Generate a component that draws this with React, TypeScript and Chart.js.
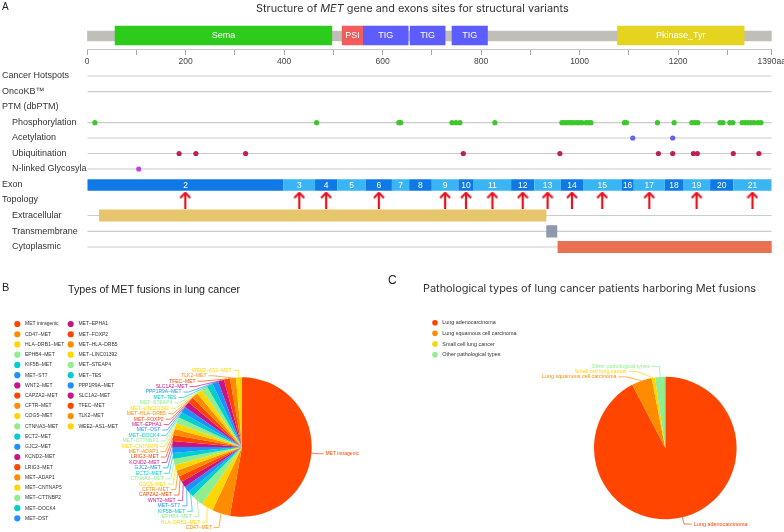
import React, { useEffect, useRef } from 'react';
import { Chart, registerables } from 'chart.js';

Chart.register(...registerables);

// ---------------- Panel A data (amino-acid coordinates) ----------------
const PROTEIN_LENGTH = 1390;
const axisTickValues = [0, 100, 200, 300, 400, 500, 600, 700, 800, 900, 1000, 1100, 1200, 1300, 1390];
const domainNames = ['Sema', 'PSI', 'TIG', 'TIG', 'TIG', 'Pkinase_Tyr'];
const domainStarts = [57, 518, 561, 656, 741, 1077];
const domainEnds = [497, 560, 652, 727, 813, 1334];
const exonNumbers = [2, 3, 4, 5, 6, 7, 8, 9, 10, 11, 12, 13, 14, 15, 16, 17, 18, 19, 20, 21];
const exonBoundaries = [0, 399, 463, 508, 566, 619, 654, 700, 754, 785, 861, 908, 962, 1007, 1085, 1110, 1173, 1210, 1265, 1312, 1390];
const breakpointExons = [2, 3, 4, 6, 9, 10, 11, 12, 13, 14, 15, 17, 19, 21];
const phosphorylationSites = [16, 466, 633, 637, 741, 749, 757, 828, 964, 969, 974, 979, 984, 989, 995, 1000, 1005, 1013, 1018, 1023, 1091, 1095, 1158, 1192, 1228, 1234, 1240, 1285, 1291, 1305, 1311, 1330, 1336, 1342, 1348, 1354, 1362, 1368];
const acetylationSites = [1108, 1189];
const ubiquitinationSites = [187, 221, 322, 764, 960, 1160, 1189, 1231, 1239, 1312, 1364];
const glycosylationSites = [105];
const topologyNames = ['Extracellular', 'Transmembrane', 'Cytoplasmic'];
const topologyStarts = [25, 933, 956];
const topologyEnds = [932, 954, 1390];
const trackLabels = ['Cancer Hotspots', 'OncoKB\u2122', 'PTM (dbPTM)', '    Phosphorylation', '    Acetylation', '    Ubiquitination', '    N-linked Glycosyla', 'Exon', 'Topology', '    Extracellular', '    Transmembrane', '    Cytoplasmic'];

// ---------------- Panel B data ----------------
const fusionNames = ['MET intragenic', 'CD47\u2013MET', 'HLA\u2013DRB1\u2013MET', 'EPHB4\u2013MET', 'KIF5B\u2013MET', 'MET\u2013ST7', 'WNT2\u2013MET', 'CAPZA2\u2013MET', 'CFTR\u2013MET', 'COG5\u2013MET', 'CTNNA3\u2013MET', 'ECT2\u2013MET', 'GJC2\u2013MET', 'KCND2\u2013MET', 'LRIG3\u2013MET', 'MET\u2013ADAP1', 'MET\u2013CNTNAP5', 'MET\u2013CTTNBP2', 'MET\u2013DOCK4', 'MET\u2013DST', 'MET\u2013EPHA1', 'MET\u2013FOXP2', 'MET\u2013HLA\u2013DRB5', 'MET\u2013LINC01392', 'MET\u2013STEAP4', 'MET\u2013TES', 'PPP1R9A\u2013MET', 'SLC1A2\u2013MET', 'TFEC\u2013MET', 'TLK2\u2013MET', 'WEE2\u2013AS1\u2013MET'];
const fusionCounts = [38, 3, 2, 2, 1, 1, 1, 1, 1, 1, 1, 1, 1, 1, 1, 1, 1, 1, 1, 1, 1, 1, 1, 1, 1, 1, 1, 1, 1, 1, 1];

// ---------------- Panel C data ----------------
const pathologyNames = ['Lung adenocarcinoma', 'Lung squamous cell carcinoma', 'Small cell lung cancer', 'Other pathological types'];
const pathologyCounts = [120, 6, 1, 3];

// ---------------- styles / layout ----------------
const PALETTE = ['#ff4500', '#ff8c00', '#ffd700', '#90ee90', '#00ced1', '#1e90ff', '#c71585'];
const DOMAIN_COLORS = ['#2ccb1c', '#f25c5c', '#5c5cff', '#5c5cff', '#5c5cff', '#e5d41f'];
const EXON_DARK = '#0f79e6';
const EXON_LIGHT = '#3ab5f4';
const TOPOLOGY_COLORS = ['#e6c56c', '#8e99ad', '#e87152'];
const A_HEIGHT = 262;
const ROW_Y = [76, 91.7, 106.5, 122.7, 138, 153.5, 169, 185, 199.5, 215.5, 231.3, 247];
const LINE_ROWS = [0, 1, 3, 4, 5, 6, 9, 10, 11];
const DOMAIN_Y = 35.5;
const AXIS_Y = 49.5;
const ARROW_Y = 200;
const SANS = 'Liberation Sans, Arial, sans-serif';

function makeArrow(color: string) {
  const c = document.createElement('canvas');
  c.width = 12;
  c.height = 17;
  const g = c.getContext('2d')!;
  g.strokeStyle = color;
  g.lineWidth = 2.2;
  g.beginPath();
  g.moveTo(6, 1.5);
  g.lineTo(6, 17);
  g.stroke();
  g.beginPath();
  g.moveTo(1, 6.5);
  g.lineTo(6, 1.3);
  g.lineTo(11, 6.5);
  g.stroke();
  return c;
}

const barTextPlugin = {
  id: 'barText',
  afterDatasetsDraw(chart: any) {
    const ctx = chart.ctx;
    chart.data.datasets.forEach((ds: any, di: number) => {
      if (!ds.barTexts) return;
      const meta = chart.getDatasetMeta(di);
      meta.data.forEach((el: any, j: number) => {
        const p = el.getProps(['x', 'base', 'y'], true);
        ctx.save();
        ctx.fillStyle = '#ffffff';
        ctx.font = ds.barTextFont;
        ctx.textAlign = 'center';
        ctx.textBaseline = 'middle';
        ctx.fillText(String(ds.barTexts[j]), (p.x + p.base) / 2, p.y + 0.5);
        ctx.restore();
      });
    });
  },
};

const dotLegendPlugin = {
  id: 'dotLegend',
  afterDraw(chart: any, _args: any, o: any) {
    const ctx = chart.ctx;
    const labels = chart.data.labels;
    const colors = chart.data.datasets[0].backgroundColor;
    ctx.save();
    ctx.font = o.fontSize + 'px ' + SANS;
    ctx.textBaseline = 'middle';
    ctx.textAlign = 'left';
    labels.forEach((lab: string, i: number) => {
      const col = Math.floor(i / o.perColumn);
      const row = i % o.perColumn;
      const x = o.x + col * o.columnWidth;
      const y = o.y + row * o.rowHeight;
      ctx.fillStyle = colors[i];
      ctx.beginPath();
      ctx.arc(x, y, o.radius, 0, Math.PI * 2);
      ctx.fill();
      ctx.fillStyle = o.color;
      ctx.fillText(lab, x + o.textOffset, y);
    });
    ctx.restore();
  },
};

const sliceLabelPlugin = {
  id: 'sliceLabels',
  afterDraw(chart: any, _args: any, o: any) {
    const ctx = chart.ctx;
    const meta = chart.getDatasetMeta(0);
    const colors = chart.data.datasets[0].backgroundColor;
    const labels = chart.data.labels;
    const items = meta.data.map((el: any, i: number) => {
      const p = el.getProps(['x', 'y', 'startAngle', 'endAngle', 'outerRadius'], true);
      const a = (p.startAngle + p.endAngle) / 2;
      const cs = Math.cos(a);
      const sn = Math.sin(a);
      const dir = cs >= 0 ? 1 : -1;
      const rA = p.outerRadius + o.len;
      return {
        i, dir, cx: p.x, cy: p.y, rA,
        sx: p.x + p.outerRadius * cs, sy: p.y + p.outerRadius * sn,
        tx: p.x + rA * cs + o.lead * dir, ty: p.y + rA * sn,
      };
    });
    [-1, 1].forEach((dir) => {
      const list = items.filter((it: any) => it.dir === dir).sort((a: any, b: any) => a.ty - b.ty);
      if (!list.length) return;
      let total = 0;
      for (let k = 1; k < list.length; k++) {
        const min = list[k - 1].ty + o.gap;
        if (list[k].ty < min) {
          total += min - list[k].ty;
          list[k].ty = min;
        }
      }
      if (total > 0) {
        if (o.balance) {
          const d = total / list.length;
          list.forEach((it: any) => { it.ty -= d; });
        }
        const semis = [list.filter((it: any) => it.ty <= it.cy), list.filter((it: any) => it.ty > it.cy)];
        semis.forEach((semi: any[]) => {
          if (!semi.length) return;
          let ext = semi[0];
          let maxDy = -1;
          semi.forEach((it) => {
            const dy = Math.abs(it.ty - it.cy);
            if (dy >= maxDy) { maxDy = dy; ext = it; }
          });
          const dx0 = Math.abs(ext.tx - ext.cx) - o.lead;
          const rA = ext.rA;
          const rB = dx0 < rA ? Math.sqrt((maxDy * maxDy) / (1 - (dx0 * dx0) / (rA * rA))) : rA;
          semi.forEach((it) => {
            const dy = Math.abs(it.ty - it.cy);
            const dx = it.rA * Math.sqrt(Math.max(0, 1 - (dy * dy) / (rB * rB)));
            it.tx = it.cx + (dx + o.lead) * it.dir;
          });
        });
      }
    });
    ctx.save();
    ctx.lineWidth = o.lineWidth;
    ctx.font = o.fontSize + 'px ' + SANS;
    ctx.textBaseline = 'middle';
    items.forEach((it: any) => {
      const col = colors[it.i];
      const elbowX = it.tx - o.lead * it.dir;
      const endX = it.tx - o.textGap * it.dir;
      ctx.strokeStyle = col;
      ctx.beginPath();
      ctx.moveTo(it.sx, it.sy);
      ctx.lineTo(elbowX, it.ty);
      ctx.lineTo(endX, it.ty);
      ctx.stroke();
      ctx.fillStyle = col;
      ctx.textAlign = it.dir > 0 ? 'left' : 'right';
      ctx.fillText(labels[it.i], it.tx, it.ty);
    });
    ctx.restore();
  },
};

function GenePanel() {
  const ref = useRef<HTMLCanvasElement>(null);
  useEffect(() => {
    const arrow = makeArrow('#e8121c');
    const exonCenters = exonNumbers.map((_, i) => (exonBoundaries[i] + exonBoundaries[i + 1]) / 2);
    const ptm = (sites: number[], row: number, color: string, label: string) => ({
      type: 'scatter', label, order: 1,
      data: sites.map((x) => ({ x, y: ROW_Y[row] })),
      backgroundColor: color, pointRadius: 2.6, pointBorderWidth: 0, pointHoverRadius: 2.6,
    });
    const chart = new Chart(ref.current!, {
      type: 'bar',
      data: {
        datasets: [
          {
            type: 'scatter', label: 'Breakpoints', order: 0,
            data: breakpointExons.map((n) => ({ x: exonCenters[exonNumbers.indexOf(n)], y: ARROW_Y })),
            pointStyle: arrow, pointRadius: 6, pointHoverRadius: 6,
          },
          ptm(phosphorylationSites, 3, '#3cc82a', 'Phosphorylation'),
          ptm(acetylationSites, 4, '#5e62f5', 'Acetylation'),
          ptm(ubiquitinationSites, 5, '#c0204c', 'Ubiquitination'),
          ptm(glycosylationSites, 6, '#c040e8', 'N-linked Glycosylation'),
          {
            type: 'bar', label: 'Domains', order: 3, indexAxis: 'y', grouped: false,
            data: domainStarts.map((s, i) => ({ x: [s, domainEnds[i]], y: DOMAIN_Y })),
            backgroundColor: DOMAIN_COLORS, barThickness: 19, borderWidth: 0,
            barTexts: domainNames, barTextFont: '9px ' + SANS,
          },
          {
            type: 'bar', label: 'Protein', order: 4, indexAxis: 'y', grouped: false,
            data: [{ x: [0, PROTEIN_LENGTH], y: DOMAIN_Y + 0.5 }],
            backgroundColor: '#bfbfb8', barThickness: 10, borderWidth: 0,
          },
          {
            type: 'bar', label: 'Exons', order: 3, indexAxis: 'y', grouped: false,
            data: exonNumbers.map((_, i) => ({ x: [exonBoundaries[i], exonBoundaries[i + 1]], y: ROW_Y[7] })),
            backgroundColor: exonNumbers.map((n) => (n % 2 === 0 ? EXON_DARK : EXON_LIGHT)),
            barThickness: 11.5, borderWidth: 0, inflateAmount: 0,
            barTexts: exonNumbers, barTextFont: '8.5px ' + SANS,
          },
          {
            type: 'bar', label: 'Topology', order: 3, indexAxis: 'y', grouped: false,
            data: topologyNames.map((_, i) => ({ x: [topologyStarts[i], topologyEnds[i]], y: ROW_Y[9 + i] })),
            backgroundColor: TOPOLOGY_COLORS, barThickness: 11.5, borderWidth: 0,
          },
          {
            type: 'bar', label: 'Tracks', order: 10, indexAxis: 'y', grouped: false,
            data: LINE_ROWS.map((r) => ({ x: [0, PROTEIN_LENGTH], y: ROW_Y[r] })),
            backgroundColor: '#cbcbcb', barThickness: 1.2, borderWidth: 0, inflateAmount: 0,
          },
        ],
      } as any,
      options: {
        responsive: false,
        maintainAspectRatio: false,
        animation: false,
        events: [],
        layout: { autoPadding: false, padding: { left: 2, right: 12.3, top: 0, bottom: 0 } },
        datasets: { bar: { indexAxis: 'y', grouped: false } } as any,
        plugins: { legend: { display: false }, tooltip: { enabled: false }, title: { display: false } },
        scales: {
          x: {
            type: 'linear', min: 0, max: PROTEIN_LENGTH, offset: false, position: { y: AXIS_Y } as any,
            afterBuildTicks: (s: any) => { s.ticks = axisTickValues.map((v) => ({ value: v })); },
            afterFit: (s: any) => { s.paddingLeft = 0; s.paddingRight = 0; s.paddingTop = 0; s.paddingBottom = 0; s.height = 0; },
            ticks: {
              autoSkip: false, maxRotation: 0, padding: 2, color: '#444',
              font: { family: SANS, size: 8.5 },
              callback: (v: any) => (v === PROTEIN_LENGTH ? PROTEIN_LENGTH + 'aa' : v % 200 === 0 ? String(v) : ''),
            },
            grid: { drawOnChartArea: false, drawTicks: true, tickLength: 5, color: '#a8a8a8', offset: false },
            border: { display: true, color: '#c4c4c4' },
          },
          y: {
            type: 'linear', min: 0, max: A_HEIGHT, reverse: true, offset: false, position: 'left',
            afterBuildTicks: (s: any) => { s.ticks = ROW_Y.map((v) => ({ value: v })); },
            afterFit: (s: any) => { s.width = 85; s.paddingTop = 0; s.paddingBottom = 0; },
            ticks: {
              autoSkip: false, padding: 0, crossAlign: 'far', color: '#333',
              font: { family: SANS, size: 9 },
              callback: (_v: any, i: number) => trackLabels[i],
            },
            grid: { display: false, offset: false },
            border: { display: false },
          },
        } as any,
      },
      plugins: [barTextPlugin],
    } as any);
    return () => chart.destroy();
  }, []);
  return <canvas ref={ref} width={784} height={A_HEIGHT} style={{ position: 'absolute', left: 0, top: 0, width: 784, height: A_HEIGHT }} />;
}

function PieCanvas(props: { left: number; labels: string[]; values: number[]; padding: any; legend: any; sliceLabels: any }) {
  const ref = useRef<HTMLCanvasElement>(null);
  useEffect(() => {
    const chart = new Chart(ref.current!, {
      type: 'pie',
      data: {
        labels: props.labels,
        datasets: [{ data: props.values, backgroundColor: props.labels.map((_, i) => PALETTE[i % PALETTE.length]), borderWidth: 0 }],
      },
      options: {
        responsive: false,
        maintainAspectRatio: false,
        animation: false,
        events: [],
        layout: { autoPadding: false, padding: props.padding },
        plugins: {
          legend: { display: false },
          tooltip: { enabled: false },
          dotLegend: props.legend,
          sliceLabels: props.sliceLabels,
        } as any,
      },
      plugins: [dotLegendPlugin, sliceLabelPlugin],
    } as any);
    return () => chart.destroy();
  }, []);
  return <canvas ref={ref} width={392} height={252} style={{ position: 'absolute', left: props.left, top: 280, width: 392, height: 252 }} />;
}

export default function App() {
  const letter: React.CSSProperties = { position: 'absolute', fontFamily: SANS, color: '#222', lineHeight: 1, whiteSpace: 'nowrap' };
  const title: React.CSSProperties = { position: 'absolute', fontFamily: 'Inter, sans-serif', fontSize: 10.9, color: '#333', lineHeight: 1, whiteSpace: 'nowrap' };
  return (
    <div style={{ position: 'absolute', left: 0, top: 0, width: 784, height: 532, background: '#fff', overflow: 'hidden' }}>
      <GenePanel />
      <PieCanvas
        left={0}
        labels={fusionNames}
        values={fusionCounts}
        padding={{ left: 172.3, right: 80.3, top: 97.3, bottom: 15.3 }}
        legend={{ x: 17.3, y: 44, rowHeight: 10.23, perColumn: 20, columnWidth: 53.4, radius: 3.1, textOffset: 7.7, fontSize: 5, color: '#333' }}
        sliceLabels={{ len: 7, lead: 7, textGap: 2, gap: 5.42, balance: false, fontSize: 5, lineWidth: 0.7 }}
      />
      <PieCanvas
        left={392}
        labels={pathologyNames}
        values={pathologyCounts}
        padding={{ left: 202, right: 47.4, top: 96.7, bottom: 12.7 }}
        legend={{ x: 43, y: 42.7, rowHeight: 10.67, perColumn: 4, columnWidth: 100, radius: 2.8, textOffset: 7.3, fontSize: 5.4, color: '#333' }}
        sliceLabels={{ len: 7, lead: 10, textGap: 2, gap: 5.3, balance: true, fontSize: 5.4, lineWidth: 0.7 }}
      />
      <div style={{ ...letter, left: 2, top: 2, fontSize: 10 }}>A</div>
      <div style={{ ...title, left: 256, top: 3.2 }}>
        Structure of <i>MET</i> gene and exons sites for structural variants
      </div>
      <div style={{ ...letter, left: 2, top: 282, fontSize: 11 }}>B</div>
      <div style={{ ...letter, left: 68, top: 284, fontSize: 10.7, color: '#222' }}>Types of MET fusions in lung cancer</div>
      <div style={{ ...letter, left: 388, top: 274, fontSize: 12 }}>C</div>
      <div style={{ ...title, left: 423, top: 282.5 }}>Pathological types of lung cancer patients harboring Met fusions</div>
    </div>
  );
}
